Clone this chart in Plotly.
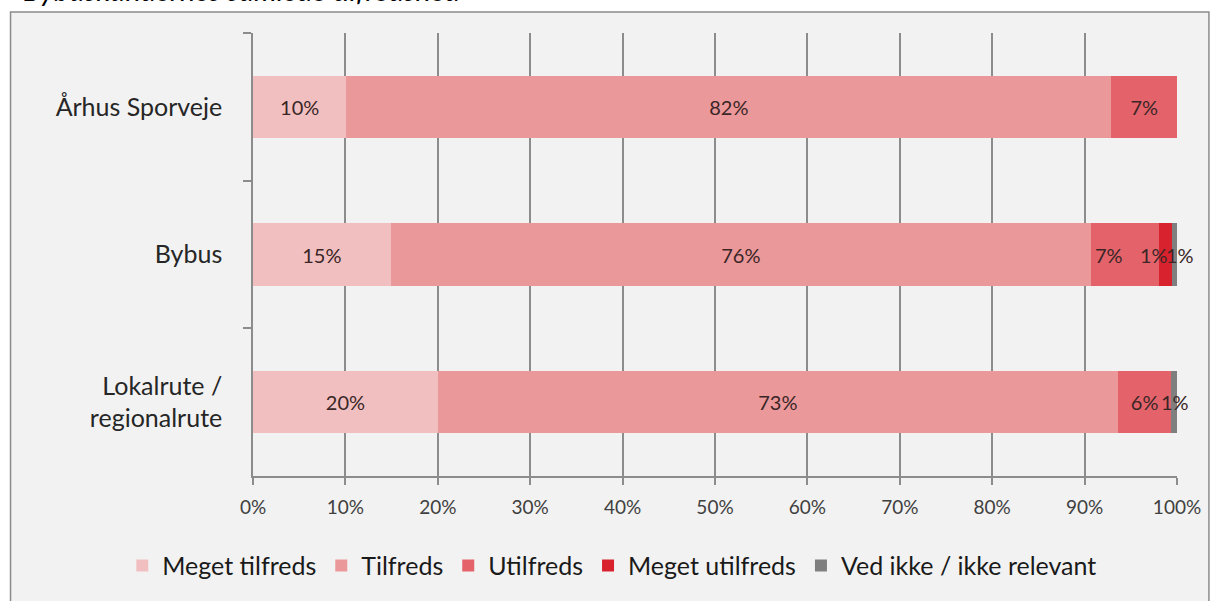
import plotly.graph_objects as go

categories = ["Århus Sporveje", "Bybus", "Lokalrute /<br>regionalrute"]
series_names = ["Meget tilfreds", "Tilfreds", "Utilfreds", "Meget utilfreds", "Ved ikke / ikke relevant"]
meget_tilfreds = [10.1, 14.9, 20.0]
tilfreds = [82.8, 75.8, 73.6]
utilfreds = [7.1, 7.4, 5.8]
meget_utilfreds = [0.0, 1.4, 0.0]
ved_ikke = [0.0, 0.5, 0.6]
label_meget_tilfreds = ["10%", "15%", "20%"]
label_tilfreds = ["82%", "76%", "73%"]
label_utilfreds = ["7%", "7%", "6%"]
label_meget_utilfreds = ["", "1%", ""]
label_ved_ikke = ["", "1%", "1%"]
x_ticks = [0, 10, 20, 30, 40, 50, 60, 70, 80, 90, 100]
x_ticklabels = ["0%", "10%", "20%", "30%", "40%", "50%", "60%", "70%", "80%", "90%", "100%"]
title_text = "Bybuskundernes samlede tilfredshed"

colors = ["#f2bfc1", "#eb989b", "#e4636b", "#d8232e", "#7f7f7f"]
values = [meget_tilfreds, tilfreds, utilfreds, meget_utilfreds, ved_ikke]
labels = [label_meget_tilfreds, label_tilfreds, label_utilfreds, label_meget_utilfreds, label_ved_ikke]
# label nudges in pixels (series index, category index) -> xshift, Excel-like placement
nudges = {(2, 1): -16, (3, 1): -12, (4, 1): 5, (4, 2): 1}
SMALL = 3.0

FONT = "Lato"
LABEL_FONT = dict(family=FONT, size=20, color="#3a2626")
fig = go.Figure()
cum = [0.0] * len(categories)
for si, (name, vals, txt, col) in enumerate(zip(series_names, values, labels, colors)):
    bar_text = []
    for ci, (v, t) in enumerate(zip(vals, txt)):
        if t and (v < SMALL or (si, ci) in nudges):
            bar_text.append("")
            fig.add_annotation(x=cum[ci] + v / 2, y=categories[ci], xref="x", yref="y",
                               text=t, showarrow=False, font=LABEL_FONT,
                               xshift=nudges.get((si, ci), 0))
        else:
            bar_text.append(t)
        cum[ci] += v
    fig.add_trace(go.Bar(
        y=categories, x=vals, name=name, orientation="h",
        marker=dict(color=col, line=dict(width=0)),
        text=bar_text, textposition="inside", insidetextanchor="middle",
        constraintext="none", textangle=0, cliponaxis=False,
        textfont=LABEL_FONT,
        hoverinfo="skip",
    ))

L, R, T, B = 253, 34, 33, 124
W, H = 1213, 601
pw, ph = W - L - R, H - T - B

def px_x(p):
    return (p - L) / pw

def px_y(p):
    return (H - B - p) / ph

fig.add_shape(type="rect", xref="paper", yref="paper",
              x0=px_x(10), x1=px_x(1211), y0=px_y(606), y1=px_y(12),
              fillcolor="#f2f2f2", line=dict(color="#8c8c8c", width=1.5), layer="below")

fig.add_annotation(text=title_text, xref="paper", yref="paper",
                   x=px_x(20), y=px_y(9), xanchor="left", yanchor="bottom",
                   showarrow=False,
                   font=dict(family=FONT, size=29, style="italic", color="#000000"))

fig.update_layout(
    width=W, height=H,
    barmode="stack", bargap=0.58,
    paper_bgcolor="white", plot_bgcolor="rgba(0,0,0,0)",
    margin=dict(l=L, r=R, t=T, b=B, pad=0),
    uniformtext=dict(minsize=20, mode="show"),
    font=dict(family=FONT, size=20, color="#333333"),
    xaxis=dict(range=[0, 100], tickvals=x_ticks, ticktext=x_ticklabels,
               showgrid=True, gridcolor="#8c8c8c", gridwidth=1.5,
               showline=True, linecolor="#8c8c8c", linewidth=1.5,
               ticks="outside", ticklen=7, tickcolor="#8c8c8c", tickwidth=1.5,
               ticklabelstandoff=6,
               tickfont=dict(family=FONT, size=19, color="#404040"),
               zeroline=False, fixedrange=True),
    yaxis=dict(autorange="reversed", showgrid=False,
               showline=True, linecolor="#8c8c8c", linewidth=1.5,
               ticks="outside", tickson="boundaries", ticklen=8,
               tickcolor="#8c8c8c", tickwidth=1.5,
               ticklabelstandoff=24,
               tickfont=dict(family=FONT, size=25, color="#262626"),
               fixedrange=True),
    legend=dict(orientation="h", xref="paper", x=px_x(122), xanchor="left",
                yref="paper", y=px_y(567), yanchor="middle",
                font=dict(family=FONT, size=25, color="#1a1a1a"),
                bgcolor="rgba(0,0,0,0)", traceorder="normal",
                itemwidth=30, tracegroupgap=0),
    showlegend=True,
)

fig.write_html("out.html", config={"displayModeBar": False},
               post_script="document.body.style.margin='0';")
